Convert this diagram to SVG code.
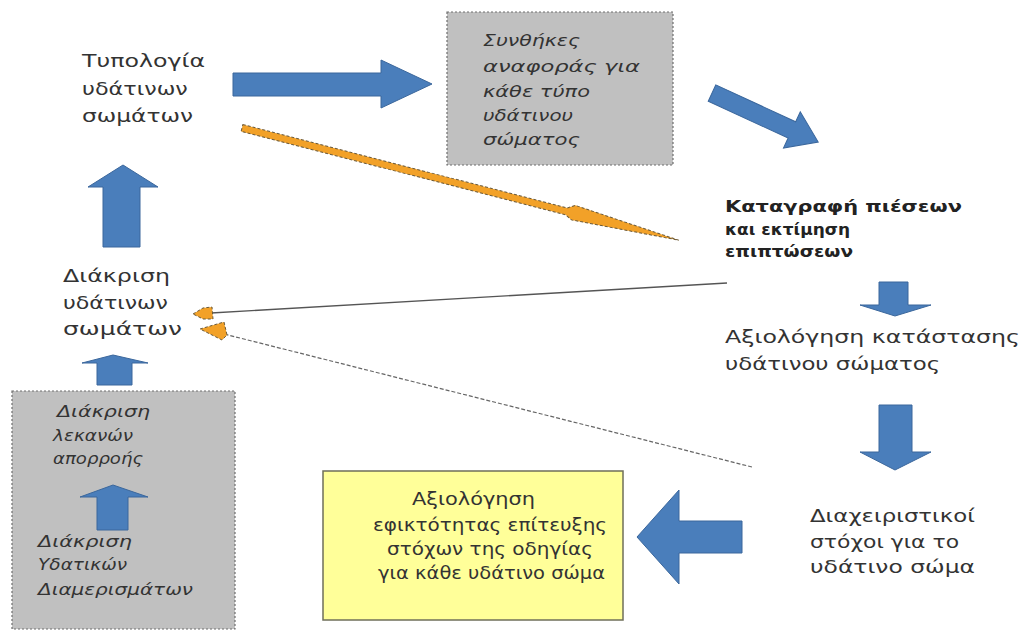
<svg xmlns="http://www.w3.org/2000/svg" width="1021" height="633" viewBox="0 0 1021 633">
  <style>
    .t { font-family: "DejaVu Sans", "Liberation Sans", sans-serif; font-size: 18px; fill: #333; }
    .it { font-style: italic; font-size: 16px; }
    .b { font-weight: bold; font-size: 15px; fill: #222; }
    .blue { fill: #4a7ebb; stroke: #3b679c; stroke-width: 1; }
    .grey { fill: #c0c0c0; stroke: #6e6e6e; stroke-width: 1.2; stroke-dasharray: 2 2; }
    .orange { fill: #f2a128; stroke: #6b5a3a; stroke-width: 1; stroke-dasharray: 3 2; }
  </style>

  <rect width="1021" height="633" fill="#ffffff"/>

  <!-- Typology of water bodies (text slightly widened horizontally) -->
  <g id="typology">
    <text class="t" transform="translate(82,67) scale(1.15,1)" textLength="107" lengthAdjust="spacingAndGlyphs">Τυπολογία</text>
    <text class="t" transform="translate(82,95) scale(1.15,1)" textLength="92" lengthAdjust="spacingAndGlyphs">υδάτινων</text>
    <text class="t" transform="translate(82,122) scale(1.15,1)" textLength="96.5" lengthAdjust="spacingAndGlyphs">σωμάτων</text>
  </g>

  <!-- Reference conditions box -->
  <g id="reference-conditions">
    <rect class="grey" x="447" y="12" width="226" height="153"/>
    <text class="t it" transform="translate(483,46) scale(1.15,1)" textLength="84.3" lengthAdjust="spacingAndGlyphs">Συνθήκες</text>
    <text class="t it" transform="translate(483,72) scale(1.15,1)" textLength="136.5" lengthAdjust="spacingAndGlyphs">αναφοράς για</text>
    <text class="t it" transform="translate(483,97) scale(1.15,1)" textLength="93" lengthAdjust="spacingAndGlyphs">κάθε τύπο</text>
    <text class="t it" transform="translate(483,121) scale(1.15,1)" textLength="78.3" lengthAdjust="spacingAndGlyphs">υδάτινου</text>
    <text class="t it" transform="translate(483,145) scale(1.15,1)" textLength="84.3" lengthAdjust="spacingAndGlyphs">σώματος</text>
  </g>

  <!-- Pressures and impacts -->
  <g id="pressures">
    <text class="t b" transform="translate(725,212) scale(1.15,1)" textLength="206" lengthAdjust="spacingAndGlyphs">Καταγραφή πιέσεων</text>
    <text class="t b" transform="translate(725,235) scale(1.15,1)" textLength="108.7" lengthAdjust="spacingAndGlyphs">και εκτίμηση</text>
    <text class="t b" transform="translate(725,257) scale(1.15,1)" textLength="111.3" lengthAdjust="spacingAndGlyphs">επιπτώσεων</text>
  </g>

  <!-- Status assessment -->
  <g id="status">
    <text class="t" transform="translate(725,343) scale(1.15,1)" textLength="256.5" lengthAdjust="spacingAndGlyphs">Αξιολόγηση κατάστασης</text>
    <text class="t" transform="translate(725,370) scale(1.15,1)" textLength="187" lengthAdjust="spacingAndGlyphs">υδάτινου σώματος</text>
  </g>

  <!-- Management objectives -->
  <g id="objectives">
    <text class="t" transform="translate(810,522) scale(1.15,1)" textLength="143.5" lengthAdjust="spacingAndGlyphs">Διαχειριστικοί</text>
    <text class="t" transform="translate(810,548) scale(1.15,1)" textLength="129.6" lengthAdjust="spacingAndGlyphs">στόχοι για το</text>
    <text class="t" transform="translate(810,573) scale(1.15,1)" textLength="143.5" lengthAdjust="spacingAndGlyphs">υδάτινο σώμα</text>
  </g>

  <!-- Feasibility assessment box -->
  <g id="feasibility">
    <rect x="323" y="471" width="300" height="149" fill="#ffff99" stroke="#6f6f5a" stroke-width="1.5"/>
    <text class="t" transform="translate(412,505) scale(1.15,1)" textLength="107" lengthAdjust="spacingAndGlyphs">Αξιολόγηση</text>
    <text class="t" transform="translate(373,531) scale(1.15,1)" textLength="203.5" lengthAdjust="spacingAndGlyphs">εφικτότητας επίτευξης</text>
    <text class="t" transform="translate(387,555) scale(1.15,1)" textLength="179" lengthAdjust="spacingAndGlyphs">στόχων της οδηγίας</text>
    <text class="t" transform="translate(378,579) scale(1.15,1)" textLength="197.4" lengthAdjust="spacingAndGlyphs">για κάθε υδάτινο σώμα</text>
  </g>

  <!-- Water body delineation -->
  <g id="delineation">
    <text class="t" transform="translate(63,282) scale(1.15,1)" textLength="93" lengthAdjust="spacingAndGlyphs">Διάκριση</text>
    <text class="t" transform="translate(63,309) scale(1.15,1)" textLength="91.3" lengthAdjust="spacingAndGlyphs">υδάτινων</text>
    <text class="t" transform="translate(63,335) scale(1.15,1)" textLength="103.5" lengthAdjust="spacingAndGlyphs">σωμάτων</text>
  </g>

  <!-- Basins and districts box -->
  <g id="basins-districts">
    <rect class="grey" x="12" y="391" width="223" height="238"/>
    <text class="t it" transform="translate(57,417) scale(1.15,1)" textLength="80.9" lengthAdjust="spacingAndGlyphs">Διάκριση</text>
    <text class="t it" transform="translate(53,441) scale(1.15,1)" textLength="69.6" lengthAdjust="spacingAndGlyphs">λεκανών</text>
    <text class="t it" transform="translate(53,464) scale(1.15,1)" textLength="78.3" lengthAdjust="spacingAndGlyphs">απορροής</text>
    <path class="blue" d="M97,530 L97,497 L80,497 L113,485 L148,497 L128,497 L128,530 Z"/>
    <text class="t it" transform="translate(38,547) scale(1.15,1)" textLength="81.7" lengthAdjust="spacingAndGlyphs">Διάκριση</text>
    <text class="t it" transform="translate(38,570) scale(1.15,1)" textLength="77.4" lengthAdjust="spacingAndGlyphs">Υδατικών</text>
    <text class="t it" transform="translate(38,595) scale(1.15,1)" textLength="134.8" lengthAdjust="spacingAndGlyphs">Διαμερισμάτων</text>
  </g>

  <!-- Connectors -->
  <g id="connectors">
    <!-- block arrows -->
    <path class="blue" d="M233,73 L381,73 L381,60 L432,84 L381,108 L381,96 L233,96 Z"/>
    <path class="blue" transform="translate(712,93) rotate(24.8)" d="M0,-9 L88,-9 L88,-20 L117,0 L88,20 L88,9 L0,9 Z"/>
    <path class="blue" d="M879,282 L908,282 L908,305 L931,305 L895,316 L860,305 L879,305 Z"/>
    <path class="blue" d="M879,405 L912,405 L912,452 L931,452 L895,470 L860,452 L879,452 Z"/>
    <path class="blue" d="M742,521 L742,553 L679,553 L679,584 L637,537 L679,490 L679,521 Z"/>
    <path class="blue" d="M103,247 L103,187 L88,187 L123,165 L158,187 L140,187 L140,247 Z"/>
    <path class="blue" d="M97,385 L97,363 L82,363 L113,355 L148,363 L132,363 L132,385 Z"/>

    <!-- orange dashed arrow typology → pressures -->
    <path class="orange" transform="translate(242,128) rotate(14.41)" d="M0,-3.5 L335,-3.5 L342,-8 L451,0 L342,7 L335,3.5 L0,3.5 Z"/>

    <!-- feedback lines back to water body delineation -->
    <line x1="727" y1="283" x2="211" y2="313" stroke="#555" stroke-width="1.3"/>
    <path class="orange" d="M193,314 L203,308 L212,307 L213,319 L203,319 Z"/>
    <line x1="752" y1="467" x2="220" y2="333" stroke="#666" stroke-width="1.2" stroke-dasharray="4 2"/>
    <path class="orange" d="M200,329 L224,322 L227,335 L222,340 Z"/>
  </g>
</svg>
